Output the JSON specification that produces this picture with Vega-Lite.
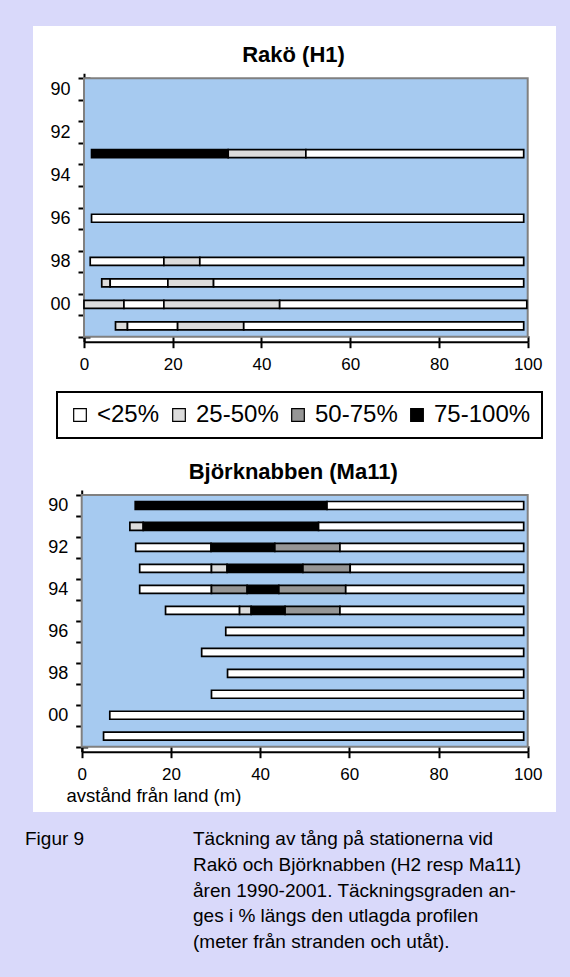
{
  "$schema": "https://vega.github.io/schema/vega-lite/v6.json",
  "width": 523,
  "height": 786,
  "autosize": {"type": "none"},
  "padding": {"left": 33, "top": 26, "right": 14, "bottom": 165},
  "background": "#D9D9FA",
  "config": {
    "view": {"fill": "white", "stroke": null},
    "font": "Liberation Sans",
    "axis": {"grid": false, "zindex": 2, "domainColor": "black", "domainWidth": 2, "tickColor": "black", "tickWidth": 2, "tickSize": 6, "labelColor": "black", "labelFont": "Liberation Sans", "labelFontSize": 17, "labelOverlap": false, "labelFlush": false, "labelBound": false, "titleColor": "black"},
    "legend": {"orient": "none", "legendX": 24, "legendY": 366, "direction": "horizontal", "fillColor": "white", "strokeColor": "black", "strokeWidth": 2, "padding": 11, "labelFontSize": 24, "labelFont": "Liberation Sans", "labelColor": "black", "symbolType": "square", "symbolSize": 160, "symbolStrokeColor": "black", "symbolStrokeWidth": 1.2, "columnPadding": 7, "labelOffset": 5}
  },
  "datasets": {
    "rako": [
      {"year": 1993, "start": 1.7, "end": 32.5, "cover": "75-100%"},
      {"year": 1993, "start": 32.5, "end": 50, "cover": "25-50%"},
      {"year": 1993, "start": 50, "end": 99.1, "cover": "<25%"},
      {"year": 1996, "start": 1.7, "end": 99.1, "cover": "<25%"},
      {"year": 1998, "start": 1.4, "end": 18, "cover": "<25%"},
      {"year": 1998, "start": 18, "end": 26.1, "cover": "25-50%"},
      {"year": 1998, "start": 26.1, "end": 99.1, "cover": "<25%"},
      {"year": 1999, "start": 4, "end": 5.9, "cover": "25-50%"},
      {"year": 1999, "start": 5.9, "end": 18.9, "cover": "<25%"},
      {"year": 1999, "start": 18.9, "end": 29.2, "cover": "25-50%"},
      {"year": 1999, "start": 29.2, "end": 99.1, "cover": "<25%"},
      {"year": 2000, "start": 0, "end": 9, "cover": "25-50%"},
      {"year": 2000, "start": 9, "end": 18, "cover": "<25%"},
      {"year": 2000, "start": 18, "end": 44.1, "cover": "25-50%"},
      {"year": 2000, "start": 44.1, "end": 99.8, "cover": "<25%"},
      {"year": 2001, "start": 7.1, "end": 9.8, "cover": "25-50%"},
      {"year": 2001, "start": 9.8, "end": 21.1, "cover": "<25%"},
      {"year": 2001, "start": 21.1, "end": 36, "cover": "25-50%"},
      {"year": 2001, "start": 36, "end": 99.1, "cover": "<25%"}
    ],
    "bjork": [
      {"year": 1990, "start": 12, "end": 55, "cover": "75-100%"},
      {"year": 1990, "start": 55, "end": 99.1, "cover": "<25%"},
      {"year": 1991, "start": 10.8, "end": 13.8, "cover": "25-50%"},
      {"year": 1991, "start": 13.8, "end": 53.1, "cover": "75-100%"},
      {"year": 1991, "start": 53.1, "end": 99.1, "cover": "<25%"},
      {"year": 1992, "start": 12.1, "end": 29, "cover": "<25%"},
      {"year": 1992, "start": 29, "end": 43.3, "cover": "75-100%"},
      {"year": 1992, "start": 43.3, "end": 57.9, "cover": "50-75%"},
      {"year": 1992, "start": 57.9, "end": 99.1, "cover": "<25%"},
      {"year": 1993, "start": 13, "end": 29.1, "cover": "<25%"},
      {"year": 1993, "start": 29.1, "end": 32.6, "cover": "25-50%"},
      {"year": 1993, "start": 32.6, "end": 49.6, "cover": "75-100%"},
      {"year": 1993, "start": 49.6, "end": 60.2, "cover": "50-75%"},
      {"year": 1993, "start": 60.2, "end": 99.1, "cover": "<25%"},
      {"year": 1994, "start": 13, "end": 29.1, "cover": "<25%"},
      {"year": 1994, "start": 29.1, "end": 37.1, "cover": "50-75%"},
      {"year": 1994, "start": 37.1, "end": 44.2, "cover": "75-100%"},
      {"year": 1994, "start": 44.2, "end": 59.2, "cover": "50-75%"},
      {"year": 1994, "start": 59.2, "end": 99.1, "cover": "<25%"},
      {"year": 1995, "start": 18.8, "end": 35.4, "cover": "<25%"},
      {"year": 1995, "start": 35.4, "end": 38, "cover": "25-50%"},
      {"year": 1995, "start": 38, "end": 45.6, "cover": "75-100%"},
      {"year": 1995, "start": 45.6, "end": 57.9, "cover": "50-75%"},
      {"year": 1995, "start": 57.9, "end": 99.1, "cover": "<25%"},
      {"year": 1996, "start": 32.3, "end": 99.1, "cover": "<25%"},
      {"year": 1997, "start": 26.9, "end": 99.1, "cover": "<25%"},
      {"year": 1998, "start": 32.7, "end": 99.1, "cover": "<25%"},
      {"year": 1999, "start": 29.1, "end": 99.1, "cover": "<25%"},
      {"year": 2000, "start": 6.3, "end": 99.1, "cover": "<25%"},
      {"year": 2001, "start": 4.9, "end": 99.1, "cover": "<25%"}
    ],
    "caption": [
      {"col": "label", "line": 1, "text": "Figur 9"},
      {"col": "body", "line": 1, "text": "Täckning av tång på stationerna vid"},
      {"col": "body", "line": 2, "text": "Rakö och Björknabben (H2 resp Ma11)"},
      {"col": "body", "line": 3, "text": "åren 1990-2001. Täckningsgraden an-"},
      {"col": "body", "line": 4, "text": "ges i % längs den utlagda profilen"},
      {"col": "body", "line": 5, "text": "(meter från stranden och utåt)."}
    ]
  },
  "layer": [
    {
      "layer": [
        {
          "data": {"values": [{"panel": "Rakö"}]},
          "mark": {"type": "rect", "fill": "#A6CAF0", "stroke": "#808080", "strokeWidth": 2},
          "encoding": {
            "x": {"datum": 0, "type": "quantitative", "scale": {"domain": [0, 100], "range": [51, 494.7], "nice": false, "zero": false},
              "axis": {"orient": "bottom", "offset": -470.3, "values": [0, 20, 40, 60, 80, 100], "labelPadding": 9, "title": null}},
            "x2": {"datum": 100},
            "y": {"datum": 1989.5, "type": "quantitative", "scale": {"domain": [1989.5, 2001.5], "range": [47.3, 315.7], "nice": false, "zero": false},
              "axis": {"orient": "left", "offset": -51,
                "values": [1989.5, 1990, 1990.5, 1991, 1991.5, 1992, 1992.5, 1993, 1993.5, 1994, 1994.5, 1995, 1995.5, 1996, 1996.5, 1997, 1997.5, 1998, 1998.5, 1999, 1999.5, 2000, 2000.5, 2001, 2001.5],
                "labelExpr": "datum.value % 2 === 0 ? (datum.value === 2000 ? '00' : '' + (datum.value - 1900)) : ''",
                "tickOpacity": {"condition": {"test": "datum.value % 1 !== 0", "value": 1}, "value": 0},
                "labelPadding": 8, "labelFontSize": 18,
                "title": "Rakö (H1)", "titleAngle": 0, "titleX": 209, "titleY": 28, "titleAlign": "center", "titleBaseline": "middle", "titleFontSize": 22, "titleFontWeight": "bold"}},
            "y2": {"datum": 2001.5}
          }
        },
        {
          "data": {"name": "rako"},
          "mark": {"type": "bar", "size": 8, "stroke": "black", "strokeWidth": 1.7},
          "encoding": {
            "x": {"field": "start", "type": "quantitative", "axis": {"orient": "top", "offset": -315.7, "values": [0, 20, 40, 60, 80, 100], "labels": false, "domain": false, "title": null}},
            "x2": {"field": "end"},
            "y": {"field": "year", "type": "quantitative", "axis": {"orient": "right", "offset": -472, "values": [1989.5, 1990.5, 1991.5, 1992.5, 1993.5, 1994.5, 1995.5, 1996.5, 1997.5, 1998.5, 1999.5, 2000.5, 2001.5], "labels": false, "domain": false, "title": null}},
            "color": {"field": "cover", "type": "nominal", "scale": {"domain": ["<25%", "25-50%", "50-75%", "75-100%"], "range": ["#FFFFFF", "#DCDCDC", "#969696", "#000000"]}, "legend": {"title": null}}
          }
        }
      ],
      "resolve": {"axis": {"x": "independent", "y": "independent"}}
    },
    {
      "layer": [
        {
          "data": {"values": [{"panel": "Björknabben"}]},
          "mark": {"type": "rect", "fill": "#A6CAF0", "stroke": "#808080", "strokeWidth": 2},
          "encoding": {
            "x": {"datum": 0, "type": "quantitative", "scale": {"domain": [0, 100], "range": [48.7, 494.7], "nice": false, "zero": false},
              "axis": {"orient": "bottom", "offset": -60.3, "values": [0, 20, 40, 60, 80, 100], "labelPadding": 9,
                "title": "avstånd från land (m)", "titleX": 33, "titleY": 44, "titleAlign": "left", "titleBaseline": "middle", "titleFontSize": 18.5, "titleFontWeight": "normal"}},
            "x2": {"datum": 100},
            "y": {"datum": 1989.5, "type": "quantitative", "scale": {"domain": [1989.5, 2001.5], "range": [464, 725.7], "nice": false, "zero": false},
              "axis": {"orient": "left", "offset": -48.7,
                "values": [1989.5, 1990, 1990.5, 1991, 1991.5, 1992, 1992.5, 1993, 1993.5, 1994, 1994.5, 1995, 1995.5, 1996, 1996.5, 1997, 1997.5, 1998, 1998.5, 1999, 1999.5, 2000, 2000.5, 2001, 2001.5],
                "labelExpr": "datum.value % 2 === 0 ? (datum.value === 2000 ? '00' : '' + (datum.value - 1900)) : ''",
                "tickOpacity": {"condition": {"test": "datum.value % 1 !== 0", "value": 1}, "value": 0},
                "labelPadding": 8, "labelFontSize": 18,
                "title": "Björknabben (Ma11)", "titleAngle": 0, "titleX": 211, "titleY": 445, "titleAlign": "center", "titleBaseline": "middle", "titleFontSize": 22, "titleFontWeight": "bold"}},
            "y2": {"datum": 2001.5}
          }
        },
        {
          "data": {"name": "bjork"},
          "mark": {"type": "bar", "size": 8, "stroke": "black", "strokeWidth": 1.7},
          "encoding": {
            "x": {"field": "start", "type": "quantitative", "axis": {"orient": "top", "offset": -725.7, "values": [0, 20, 40, 60, 80, 100], "labels": false, "domain": false, "title": null}},
            "x2": {"field": "end"},
            "y": {"field": "year", "type": "quantitative", "axis": {"orient": "right", "offset": -474.3, "values": [1989.5, 1990.5, 1991.5, 1992.5, 1993.5, 1994.5, 1995.5, 1996.5, 1997.5, 1998.5, 1999.5, 2000.5, 2001.5], "labels": false, "domain": false, "title": null}},
            "color": {"field": "cover", "type": "nominal", "legend": {"title": null}}
          }
        }
      ],
      "resolve": {"axis": {"x": "independent", "y": "independent"}}
    },
    {
      "data": {"name": "caption"},
      "mark": {"type": "text", "align": "left", "baseline": "middle", "font": "Liberation Sans", "fontSize": 19, "color": "black"},
      "encoding": {
        "x": {"field": "col", "type": "nominal", "scale": {"type": "point", "domain": ["label", "body"], "range": [-8, 160], "padding": 0}, "axis": null},
        "y": {"field": "line", "type": "quantitative", "scale": {"domain": [1, 5], "range": [813, 916], "nice": false, "zero": false}, "axis": null},
        "text": {"field": "text"}
      }
    }
  ],
  "resolve": {"scale": {"x": "independent", "y": "independent"}, "axis": {"x": "independent", "y": "independent"}}
}
